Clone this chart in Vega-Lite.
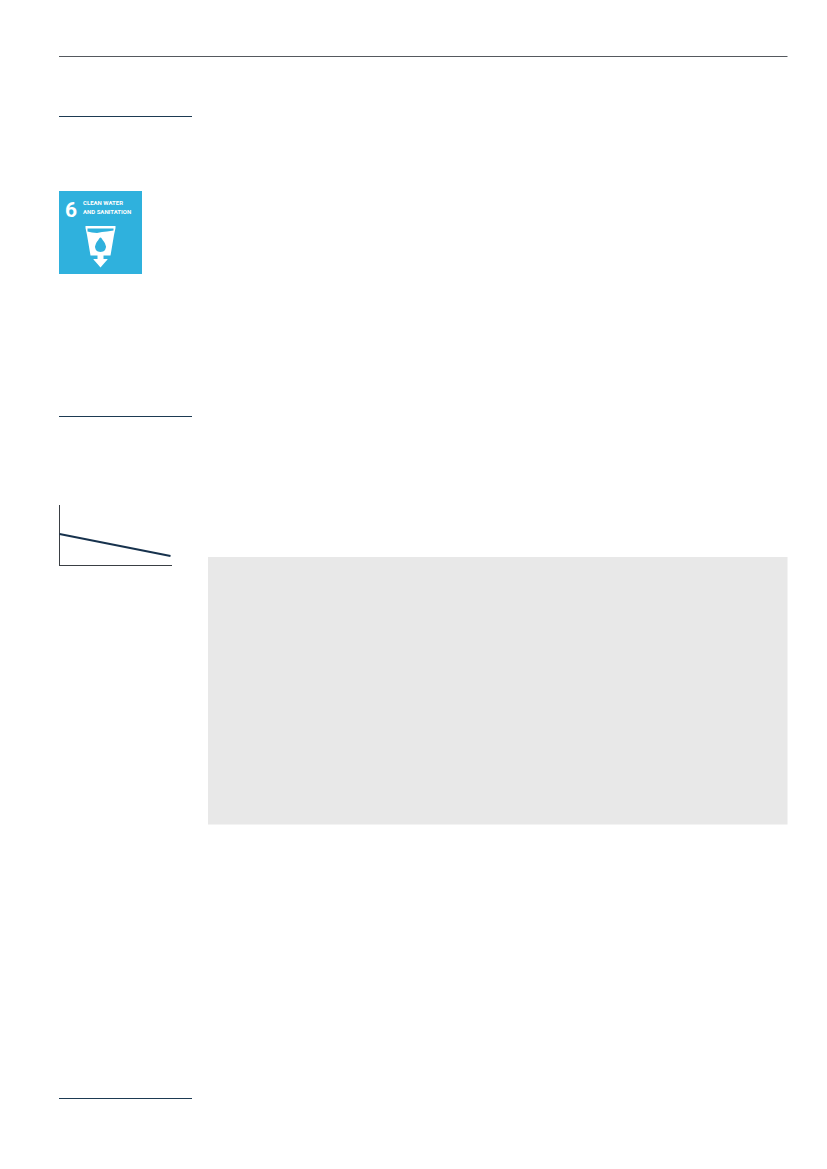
{
  "$schema": "https://vega.github.io/schema/vega-lite/v6.json",
  "description": "Report page: header rules, SDG 6 tile, small trend line and a grey panel.",
  "width": 827,
  "height": 1169,
  "padding": 0,
  "autosize": {"type": "fit", "contains": "padding"},
  "background": "white",
  "view": {"stroke": null},
  "resolve": {"scale": {"color": "independent"}},
  "datasets": {
    "boxes": [
      {"box": "panel", "x": 208, "x2": 787.5, "y": 557, "y2": 824.5},
      {"box": "tile", "x": 59, "x2": 142, "y": 191, "y2": 274}
    ],
    "rules": [
      {"rule": "header", "x": 59, "x2": 787.5, "y": 56.5},
      {"rule": "section", "x": 59, "x2": 192, "y": 116.5},
      {"rule": "section", "x": 59, "x2": 192, "y": 416.5},
      {"rule": "section", "x": 59, "x2": 192, "y": 1098.5}
    ],
    "axes": [
      {"x": 59.5, "x2": 59.5, "y": 505, "y2": 565.5},
      {"x": 59, "x2": 172, "y": 565.5, "y2": 565.5}
    ],
    "trend": [
      {"x": 59.5, "y": 534},
      {"x": 170.5, "y": 556}
    ],
    "glassSides": [
      {"x": 85.5, "y": 226, "y2": 228},
      {"x": 87, "y": 226, "y2": 235},
      {"x": 90.5, "y": 226, "y2": 255.5},
      {"x": 110.5, "y": 226, "y2": 255.5},
      {"x": 114, "y": 226, "y2": 235},
      {"x": 115.5, "y": 226, "y2": 228}
    ],
    "band": [
      {"x": 87.5, "y": 228.5, "y2": 231.5},
      {"x": 92, "y": 228.5, "y2": 232.5},
      {"x": 97, "y": 228.5, "y2": 233},
      {"x": 102, "y": 228.5, "y2": 232},
      {"x": 107, "y": 228.5, "y2": 231.5},
      {"x": 113.5, "y": 228.5, "y2": 230.5}
    ],
    "drop": [
      {"x": 95, "y": 246.5, "y2": 247},
      {"x": 96, "y": 243.5, "y2": 250},
      {"x": 98, "y": 240.5, "y2": 251.5},
      {"x": 100.5, "y": 237.5, "y2": 252},
      {"x": 103, "y": 240.5, "y2": 251.5},
      {"x": 105, "y": 243.5, "y2": 250},
      {"x": 106, "y": 246.5, "y2": 247}
    ],
    "arrow": [
      {"x": 93.5, "y": 259, "y2": 259.5},
      {"x": 97.5, "y": 259, "y2": 264},
      {"x": 97.51, "y": 255, "y2": 264},
      {"x": 100.5, "y": 255, "y2": 267.5},
      {"x": 103.5, "y": 255, "y2": 264},
      {"x": 103.51, "y": 259, "y2": 264},
      {"x": 107.5, "y": 259, "y2": 259.5}
    ],
    "number": [
      {"x": 71, "y": 216.5, "label": "6"}
    ],
    "title": [
      {"x": 83, "y": 204.5, "label": "CLEAN WATER"},
      {"x": 83, "y": 214, "label": "AND SANITATION"}
    ]
  },
  "encoding": {
    "x": {"field": "x", "type": "quantitative", "scale": {"domain": [0, 827], "nice": false, "zero": false}, "axis": null},
    "y": {"field": "y", "type": "quantitative", "scale": {"domain": [0, 1169], "reverse": true, "nice": false, "zero": false}, "axis": null}
  },
  "layer": [
    {
      "data": {"name": "boxes"},
      "mark": {"type": "rect"},
      "encoding": {
        "x2": {"field": "x2"},
        "y2": {"field": "y2"},
        "color": {"field": "box", "type": "nominal", "scale": {"domain": ["panel", "tile"], "range": ["#e8e8e8", "#2fb1dd"]}, "legend": null}
      }
    },
    {
      "data": {"name": "rules"},
      "mark": {"type": "rule", "strokeWidth": 1},
      "encoding": {
        "x2": {"field": "x2"},
        "color": {"field": "rule", "type": "nominal", "scale": {"domain": ["header", "section"], "range": ["#55595e", "#1d3a52"]}, "legend": null}
      }
    },
    {
      "data": {"name": "axes"},
      "mark": {"type": "rule", "strokeWidth": 1, "color": "#3a3f44"},
      "encoding": {"x2": {"field": "x2"}, "y2": {"field": "y2"}}
    },
    {
      "data": {"name": "trend"},
      "mark": {"type": "line", "color": "#17324d", "strokeWidth": 2},
      "encoding": {"order": {"field": "x", "type": "quantitative"}}
    },
    {
      "data": {"name": "glassSides"},
      "mark": {"type": "area", "color": "white", "opacity": 1},
      "encoding": {"y2": {"field": "y2"}}
    },
    {
      "data": {"name": "band"},
      "mark": {"type": "area", "color": "#2fb1dd", "opacity": 1},
      "encoding": {"y2": {"field": "y2"}}
    },
    {
      "data": {"name": "drop"},
      "mark": {"type": "area", "color": "#2fb1dd", "opacity": 1, "interpolate": "monotone"},
      "encoding": {"y2": {"field": "y2"}}
    },
    {
      "data": {"name": "arrow"},
      "mark": {"type": "area", "color": "white", "opacity": 1},
      "encoding": {"y2": {"field": "y2"}}
    },
    {
      "data": {"name": "number"},
      "mark": {"type": "text", "align": "center", "baseline": "alphabetic", "font": "Roboto", "fontWeight": "bold", "fontSize": 21, "color": "white"},
      "encoding": {"text": {"field": "label"}}
    },
    {
      "data": {"name": "title"},
      "mark": {"type": "text", "align": "left", "baseline": "alphabetic", "font": "Roboto", "fontWeight": "bold", "fontSize": 6, "color": "white"},
      "encoding": {"text": {"field": "label"}}
    }
  ]
}
